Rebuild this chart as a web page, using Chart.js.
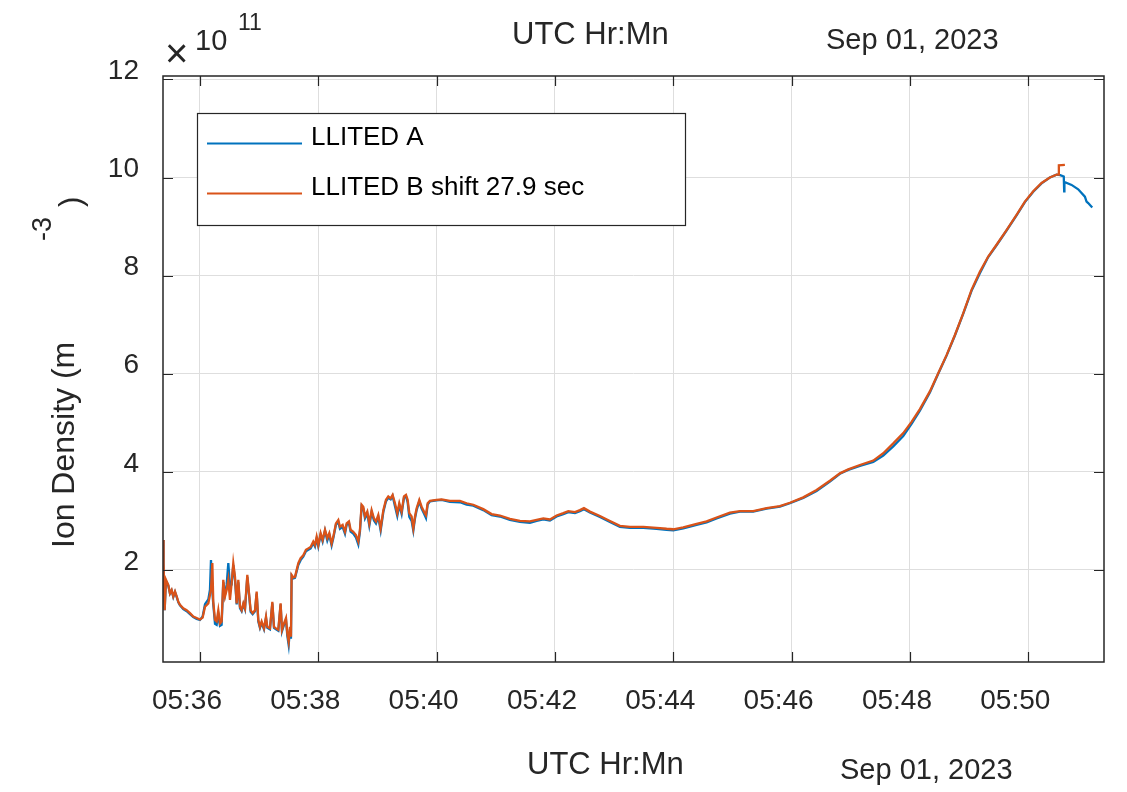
<!DOCTYPE html>
<html>
<head>
<meta charset="utf-8">
<script src="https://cdn.jsdelivr.net/npm/chart.js@4"></script>
<style>
  html, body { margin: 0; padding: 0; background: #fff; }
  canvas { display: block; }
</style>
</head>
<body>
<canvas id="chart" width="1127" height="792"></canvas>
<script>
// time in minutes past 05:00 UTC, densities in units of 1e11 m^-3
const minutes = [
  35.376, 35.385, 35.403, 35.425, 35.465, 35.493, 35.521, 35.549, 35.578, 35.606,
  35.634, 35.662, 35.718, 35.775, 35.831, 35.887, 35.944, 36.000, 36.045, 36.085,
  36.141, 36.169, 36.186, 36.209, 36.225, 36.254, 36.282, 36.310, 36.338, 36.366,
  36.394, 36.423, 36.451, 36.479, 36.507, 36.535, 36.563, 36.592, 36.620, 36.648,
  36.676, 36.704, 36.733, 36.761, 36.800, 36.834, 36.856, 36.890, 36.930, 36.958,
  36.986, 37.014, 37.042, 37.082, 37.116, 37.138, 37.183, 37.223, 37.251, 37.285,
  37.324, 37.363, 37.386, 37.420, 37.454, 37.476, 37.499, 37.521, 37.538, 37.549,
  37.578, 37.606, 37.662, 37.701, 37.746, 37.791, 37.831, 37.870, 37.915, 37.944,
  37.972, 38.000, 38.039, 38.073, 38.113, 38.152, 38.186, 38.225, 38.254, 38.298,
  38.338, 38.366, 38.411, 38.451, 38.479, 38.518, 38.546, 38.591, 38.637, 38.676,
  38.704, 38.732, 38.760, 38.789, 38.828, 38.862, 38.901, 38.941, 38.975, 39.014,
  39.054, 39.099, 39.144, 39.183, 39.223, 39.256, 39.296, 39.335, 39.369, 39.408,
  39.448, 39.482, 39.510, 39.538, 39.577, 39.606, 39.634, 39.662, 39.707, 39.746,
  39.786, 39.820, 39.848, 39.887, 40.000, 40.084, 40.225, 40.394, 40.507, 40.619,
  40.788, 40.929, 41.070, 41.239, 41.408, 41.577, 41.690, 41.803, 41.915, 42.028,
  42.141, 42.225, 42.338, 42.422, 42.490, 42.591, 42.760, 42.929, 43.098, 43.267,
  43.493, 43.718, 43.887, 44.000, 44.169, 44.394, 44.563, 44.732, 44.957, 45.126,
  45.351, 45.577, 45.802, 45.971, 46.197, 46.422, 46.647, 46.816, 46.957, 47.154,
  47.380, 47.549, 47.718, 47.887, 48.027, 48.168, 48.337, 48.478, 48.619, 48.760,
  48.900, 49.041, 49.182, 49.323, 49.464, 49.633, 49.802, 49.943, 50.084, 50.225,
  50.365, 50.478
];
const ionA = [
  2.61, 2.14, 1.18, 1.78, 1.68, 1.52, 1.58, 1.45, 1.55, 1.45,
  1.34, 1.28, 1.20, 1.16, 1.10, 1.04, 1.00, 0.98, 1.05, 1.30,
  1.40, 1.60, 2.20, 1.55, 1.30, 0.90, 0.88, 1.10, 0.86, 0.88,
  1.75, 1.50, 1.70, 2.14, 1.65, 1.70, 2.10, 1.80, 1.30, 1.75,
  1.22, 1.16, 1.30, 1.20, 1.86, 1.44, 1.15, 1.10, 1.16, 1.52,
  0.95, 0.82, 0.92, 0.79, 1.02, 0.82, 0.79, 1.32, 0.82, 0.79,
  0.76, 1.30, 0.75, 0.88, 0.98, 0.66, 0.47, 0.80, 0.60, 1.88,
  1.83, 1.84, 2.10, 2.20, 2.27, 2.38, 2.41, 2.44, 2.55, 2.48,
  2.64, 2.48, 2.72, 2.58, 2.80, 2.60, 2.72, 2.50, 2.65, 2.92,
  2.98, 2.84, 2.88, 2.74, 2.92, 2.96, 2.78, 2.74, 2.66, 2.52,
  2.78, 3.30, 3.26, 3.05, 3.15, 2.90, 3.18, 3.01, 2.95, 3.08,
  2.80, 3.18, 3.40, 3.47, 3.44, 3.51, 3.30, 3.10, 3.32, 3.14,
  3.47, 3.50, 3.38, 3.08, 3.00, 2.80, 3.05, 3.22, 3.40, 3.25,
  3.15, 3.06, 3.33, 3.40, 3.42, 3.43, 3.39, 3.38, 3.33, 3.31,
  3.22, 3.12, 3.09, 3.02, 2.98, 2.96, 3.00, 3.03, 3.01, 3.09,
  3.14, 3.18, 3.16, 3.20, 3.24, 3.17, 3.08, 2.98, 2.88, 2.86,
  2.86, 2.84, 2.82, 2.81, 2.85, 2.92, 2.97, 3.05, 3.15, 3.19,
  3.19, 3.25, 3.29, 3.36, 3.47, 3.61, 3.80, 3.96, 4.04, 4.12,
  4.20, 4.33, 4.52, 4.73, 4.98, 5.25, 5.62, 6.00, 6.37, 6.78,
  7.22, 7.69, 8.05, 8.38, 8.62, 8.92, 9.23, 9.50, 9.71, 9.88,
  10.00, 10.06
];
const ionB = [
  2.61, 2.14, 1.18, 1.80, 1.69, 1.52, 1.59, 1.46, 1.56, 1.46,
  1.35, 1.29, 1.22, 1.18, 1.12, 1.05, 1.02, 0.99, 1.03, 1.25,
  1.32, 1.49, 1.60, 2.14, 1.35, 0.98, 0.95, 1.18, 0.91, 0.95,
  1.80, 1.46, 1.59, 1.80, 1.39, 1.73, 2.14, 1.86, 1.32, 1.80,
  1.25, 1.18, 1.32, 1.22, 1.90, 1.46, 1.18, 1.12, 1.18, 1.56,
  0.98, 0.84, 0.95, 0.81, 1.05, 0.84, 0.81, 1.35, 0.84, 0.81,
  0.78, 1.32, 0.78, 0.91, 1.02, 0.71, 0.54, 0.84, 0.64, 1.90,
  1.85, 1.86, 2.14, 2.24, 2.30, 2.41, 2.44, 2.47, 2.58, 2.51,
  2.68, 2.51, 2.75, 2.61, 2.82, 2.65, 2.75, 2.54, 2.68, 2.95,
  3.02, 2.88, 2.92, 2.78, 2.95, 2.99, 2.82, 2.78, 2.71, 2.58,
  2.82, 3.33, 3.29, 3.09, 3.19, 2.95, 3.22, 3.05, 2.99, 3.12,
  2.85, 3.22, 3.43, 3.50, 3.46, 3.53, 3.36, 3.16, 3.36, 3.19,
  3.50, 3.53, 3.43, 3.16, 3.09, 2.85, 3.09, 3.26, 3.43, 3.29,
  3.19, 3.12, 3.36, 3.41, 3.43, 3.44, 3.41, 3.41, 3.36, 3.33,
  3.24, 3.14, 3.11, 3.04, 3.00, 2.99, 3.02, 3.05, 3.03, 3.11,
  3.16, 3.20, 3.18, 3.22, 3.26, 3.19, 3.10, 3.00, 2.90, 2.88,
  2.88, 2.86, 2.84, 2.83, 2.87, 2.94, 2.99, 3.07, 3.17, 3.20,
  3.20, 3.26, 3.30, 3.37, 3.48, 3.63, 3.82, 3.97, 4.05, 4.14,
  4.23, 4.38, 4.58, 4.79, 5.02, 5.28, 5.64, 6.01, 6.38, 6.79,
  7.23, 7.71, 8.08, 8.39, 8.63, 8.93, 9.24, 9.51, 9.72, 9.89,
  10.00, 10.06
];
// end of each pass, where the two instruments differ
const tailMinutesA = [50.540, 50.600, 50.607, 50.611, 50.732, 50.844, 50.957, 50.985, 51.013, 51.081];
const tailA = [10.05, 10.02, 9.72, 9.91, 9.85, 9.76, 9.61, 9.51, 9.48, 9.39];
const tailMinutesB = [50.515, 50.517, 50.619];
const tailB = [10.06, 10.25, 10.26];

const xTicks = [36, 38, 40, 42, 44, 46, 48, 50];
const yTicks = [2, 4, 6, 8, 10, 12];
const seriesNames = ["LLITED A", "LLITED B shift 27.9 sec"];
const seriesColors = ["#0072BD", "#D95319"];

const FONT = '"Liberation Sans", Arial, Helvetica, sans-serif';
const INK = "#262626";

function toPoints(xs, ys) {
  return xs.map((x, i) => ({ x: x, y: ys[i] }));
}

// inside tick marks and the axes box, MATLAB style
const axesBox = {
  id: "axesBox",
  afterDatasetsDraw(chart) {
    const { ctx, chartArea: a, scales: { x, y } } = chart;
    ctx.save();
    ctx.strokeStyle = INK;
    ctx.lineWidth = 1.2;
    ctx.beginPath();
    xTicks.forEach(t => {
      const px = Math.round(x.getPixelForValue(t)) + 0.5;
      ctx.moveTo(px, a.bottom); ctx.lineTo(px, a.bottom - 10);
      ctx.moveTo(px, a.top); ctx.lineTo(px, a.top + 10);
    });
    yTicks.forEach(t => {
      const py = Math.round(y.getPixelForValue(t)) + 0.5;
      ctx.moveTo(a.left, py); ctx.lineTo(a.left + 10, py);
      ctx.moveTo(a.right, py); ctx.lineTo(a.right - 10, py);
    });
    ctx.stroke();
    ctx.lineWidth = 1.5;
    ctx.strokeRect(a.left, a.top, a.right - a.left, a.bottom - a.top);
    ctx.restore();
  }
};

// titles, exponent, y label and legend
const annotations = {
  id: "annotations",
  afterDraw(chart) {
    const ctx = chart.ctx;
    ctx.save();
    ctx.fillStyle = INK;
    ctx.textAlign = "left";
    ctx.textBaseline = "alphabetic";

    ctx.font = "31px " + FONT;
    ctx.fillText("UTC Hr:Mn", 512, 44);
    ctx.fillText("UTC Hr:Mn", 527, 774);
    ctx.font = "29px " + FONT;
    ctx.fillText("Sep 01, 2023", 826, 49);
    ctx.fillText("Sep 01, 2023", 840, 779);

    ctx.font = "40px " + FONT;
    ctx.fillText("\u00d7", 165, 67);
    ctx.font = "29px " + FONT;
    ctx.fillText("10", 195, 50);
    ctx.font = "23px " + FONT;
    ctx.fillText("11", 238, 30);

    // y label, rotated
    ctx.save();
    ctx.translate(74, 548);
    ctx.rotate(-Math.PI / 2);
    ctx.font = "32px " + FONT;
    ctx.fillText("Ion Density (m", 0, 0);
    ctx.restore();
    ctx.save();
    ctx.translate(51, 241);
    ctx.rotate(-Math.PI / 2);
    ctx.font = "27px " + FONT;
    ctx.fillText("-3", 0, 0);
    ctx.restore();
    ctx.save();
    ctx.translate(81, 207);
    ctx.rotate(-Math.PI / 2);
    ctx.font = "31px " + FONT;
    ctx.fillText(")", 0, 0);
    ctx.restore();

    // legend
    ctx.fillStyle = "#ffffff";
    ctx.fillRect(197, 113, 488, 112);
    ctx.strokeStyle = INK;
    ctx.lineWidth = 1.2;
    ctx.strokeRect(197.5, 113.5, 488, 112);
    const rows = [143.5, 193.5];
    seriesNames.forEach((name, i) => {
      ctx.strokeStyle = seriesColors[i];
      ctx.lineWidth = 2;
      ctx.beginPath();
      ctx.moveTo(207, rows[i]);
      ctx.lineTo(302, rows[i]);
      ctx.stroke();
      ctx.fillStyle = "#000000";
      ctx.font = "26px " + FONT;
      ctx.fillText(name, 311, rows[i] + 1.5);
    });
    ctx.restore();
  }
};

const ctx = document.getElementById("chart").getContext("2d");

let chart = new Chart(ctx, {
  type: "line",
  data: {
    datasets: [{
      label: seriesNames[0],
      data: toPoints(minutes.concat(tailMinutesA), ionA.concat(tailA)),
      borderColor: seriesColors[0],
      borderWidth: 2.3,
      pointRadius: 0,
      tension: 0,
      fill: false,
      order: 2
    }, {
      label: seriesNames[1],
      data: toPoints(minutes.concat(tailMinutesB), ionB.concat(tailB)),
      borderColor: seriesColors[1],
      borderWidth: 2.3,
      pointRadius: 0,
      tension: 0,
      fill: false,
      order: 1
    }]
  },
  options: {
    responsive: false,
    animation: false,
    devicePixelRatio: 1,
    layout: { padding: { left: 0, top: 76, right: 23, bottom: 0 } },
    plugins: {
      legend: { display: false },
      tooltip: { enabled: false }
    },
    scales: {
      x: {
        type: "linear",
        min: 35.375,
        max: 51.28,
        afterBuildTicks: axis => { axis.ticks = xTicks.map(v => ({ value: v })); },
        afterFit: axis => { axis.height = 130; },
        grid: { color: "#dedede", lineWidth: 1, drawTicks: false },
        border: { display: false },
        ticks: {
          autoSkip: false,
          maxRotation: 0,
          padding: 22,
          labelOffset: -13,
          color: INK,
          font: { family: FONT, size: 28 },
          callback: v => "05:" + String(v).padStart(2, "0")
        }
      },
      y: {
        type: "linear",
        min: 0.124,
        max: 12.07,
        afterBuildTicks: axis => { axis.ticks = yTicks.map(v => ({ value: v })); },
        afterFit: axis => { axis.width = 163; },
        grid: { color: "#dedede", lineWidth: 1, drawTicks: false },
        border: { display: false },
        ticks: {
          padding: 24,
          labelOffset: -8,
          color: INK,
          font: { family: FONT, size: 28 },
          callback: v => String(v)
        }
      }
    }
  },
  plugins: [axesBox, annotations]
});
</script>
</body>
</html>
